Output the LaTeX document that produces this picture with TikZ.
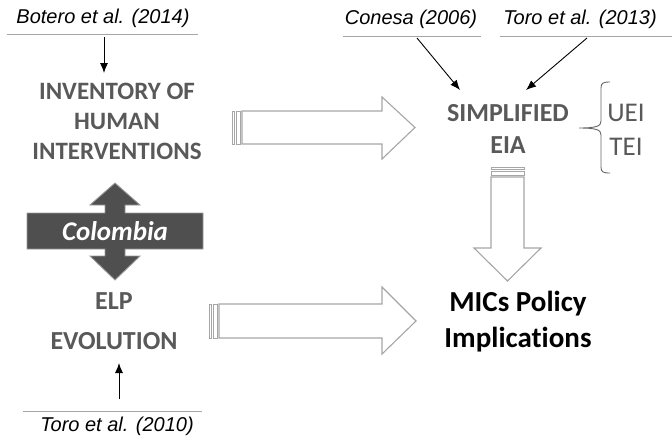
\documentclass[tikz,border=0pt]{standalone}
\usepackage{fontspec}
\setmainfont{Carlito}[Ligatures=NoCommon]
\newfontfamily\reffont{Liberation Sans}
\usetikzlibrary{arrows.meta}
\definecolor{txtgrey}{HTML}{595959}
\definecolor{arrgrey}{HTML}{A6A6A6}
\definecolor{darkfill}{HTML}{4F4F4F}
\tikzset{
  reftext/.style={font=\reffont\itshape\fontsize{20}{23}\selectfont, text=black, inner sep=0pt},
  maintext/.style={text=txtgrey, align=center, inner sep=0pt},
  sidetext/.style={font=\fontsize{27}{30}\selectfont, text=txtgrey, inner sep=0pt},
  refline/.style={draw=gray!70, line width=0.8pt},
  thinarrow/.style={draw=black, line width=0.9pt, -{Latex[length=10pt,width=8pt]}},
  blockarrow/.style={draw=arrgrey, line width=1.1pt, fill=white, line join=miter},
  tailbar/.style={draw=arrgrey, line width=0.9pt, fill=white}
}
\begin{document}
\begin{tikzpicture}[x=1pt,y=-1pt]
\useasboundingbox (0,0) rectangle (672,439);

% reference texts and lines
\node[reftext] (botero) at (103,18) {Botero et al. (2014)};
\draw[refline] (7,34) -- (198,34);
\coordinate (boteroBase) at (104,37);

\node[reftext] (conesa) at (411,19) {Conesa (2006)};
\draw[refline] (343,36) -- (481,36);
\coordinate (conesaBase) at (417,38);

\node[reftext] (toro13) at (580,19) {Toro et al. (2013)};
\draw[refline] (500,36) -- (672,36);
\coordinate (toro13Base) at (587,38);

\node[reftext] (toro10) at (117,426) {Toro et al. (2010)};
\draw[refline] (23,411) -- (202,411);
\coordinate (toro10Base) at (119,399);

% main texts
\node[maintext, font=\bfseries\fontsize{25}{30}\selectfont] (inventory) at (117,121) {INVENTORY OF\\HUMAN\\INTERVENTIONS};
\node[maintext, font=\bfseries\fontsize{26}{40}\selectfont] (elp) at (114,321) {ELP\\EVOLUTION};
\node[maintext, font=\bfseries\fontsize{26}{32}\selectfont] (eia) at (508,129) {SIMPLIFIED\\EIA};
\node[maintext, text=black, font=\bfseries\fontsize{29}{36}\selectfont] (mics) at (518,322) {MICs Policy\\Implications};
\node[sidetext] (uei) at (626,113) {UEI};
\node[sidetext] (tei) at (626,147) {TEI};

% thin arrows
\coordinate (invTop) at (104,73);
\coordinate (elpBottom) at (119,363);
\coordinate (eiaL) at (460,90);
\coordinate (eiaR) at (526,90);
\draw[thinarrow] (boteroBase) -- (invTop);
\draw[thinarrow] (toro10Base) -- (elpBottom);
\draw[thinarrow] (conesaBase) -- (eiaL);
\draw[thinarrow] (toro13Base) -- (eiaR);

% brace
\draw[draw=gray!80!black, line width=0.9pt]
  (610,82) .. controls (603,82) and (601,83) .. (601,88)
  -- (601,121) .. controls (601,126) and (597,128) .. (579,128)
  .. controls (597,128) and (601,130) .. (601,135)
  -- (601,167) .. controls (601,172) and (603,173) .. (610,173);

% block arrow 1 (top right)
\draw[tailbar] (232,111) rectangle (234,144);
\draw[tailbar] (236,111) rectangle (240,144);
\draw[blockarrow] (242,111) -- (382,111) -- (382,97) -- (415,127.5) -- (382,159) -- (382,144) -- (242,144) -- cycle;

% block arrow 2 (bottom right)
\draw[tailbar] (209,304) rectangle (211,338);
\draw[tailbar] (213,304) rectangle (217,338);
\draw[blockarrow] (219,304) -- (382,304) -- (382,287) -- (416,321) -- (382,354) -- (382,338) -- (219,338) -- cycle;

% block arrow 3 (down)
\draw[tailbar] (491,167) rectangle (524,169);
\draw[tailbar] (491,171) rectangle (524,175);
\draw[blockarrow] (491,177) -- (491,248) -- (474,248) -- (507.5,281) -- (541,248) -- (524,248) -- (524,177) -- cycle;

% Colombia double arrow
\draw[draw=gray!80, fill=darkfill, line width=0.9pt, line join=miter]
  (115,183) -- (140,205) -- (125,205) -- (125,213) -- (203,213) -- (203,249)
  -- (125,249) -- (125,256) -- (140,256) -- (115,280) -- (90,256) -- (105,256)
  -- (105,249) -- (27,249) -- (27,213) -- (105,213) -- (105,205) -- (90,205) -- cycle;
\node[font=\bfseries\itshape\fontsize{27}{30}\selectfont, text=white, inner sep=0pt] (colombia) at (115,231) {Colombia};
\end{tikzpicture}
\end{document}
